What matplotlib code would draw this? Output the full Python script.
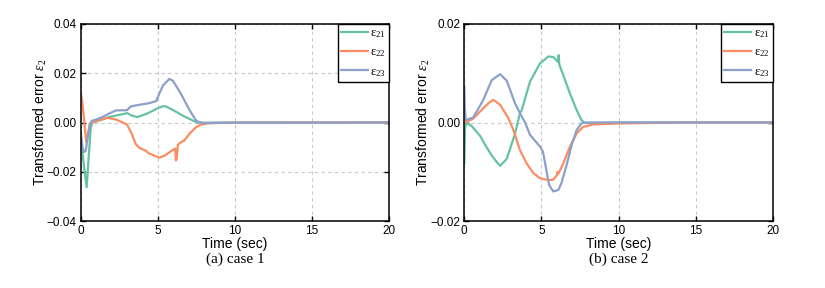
import matplotlib
matplotlib.use("Agg")
import matplotlib.pyplot as plt

plt.rcParams['font.family'] = ['Liberation Sans', 'DejaVu Sans']
plt.rcParams['mathtext.fontset'] = 'custom'
plt.rcParams['mathtext.rm'] = 'Liberation Serif'
plt.rcParams['mathtext.it'] = 'Liberation Serif:italic'

C_GREEN = '#66c2a5'
C_ORANGE = '#fc8d62'
C_BLUE = '#8da0cb'

# ---- case 1 data ----
t1_e21 = [0.0, 0.1, 0.25, 0.38, 0.5, 0.65, 0.75, 1.2, 1.83, 2.5, 3.02, 3.3, 3.67, 4.3, 4.9, 5.33, 5.5, 5.97, 6.62, 7.26, 7.58, 8.0, 10.0, 20.0]
v1_e21 = [-0.006, -0.012, -0.020, -0.0263, -0.015, -0.002, 0.0, 0.0008, 0.0022, 0.0031, 0.0038, 0.0028, 0.0022, 0.0036, 0.0055, 0.0066, 0.0066, 0.0051, 0.0028, 0.0008, 0.0, -0.0001, 0.0, 0.0]

t1_e22 = [0.0, 0.1, 0.22, 0.35, 0.48, 0.6, 0.75, 1.2, 1.73, 2.3, 3.0, 3.3, 3.56, 3.8, 4.2, 4.4, 5.1, 5.43, 6.08, 6.13, 6.17, 6.22, 6.3, 6.5, 6.7, 7.05, 7.48, 7.8, 8.35, 9.5, 12.0, 20.0]
v1_e22 = [0.012, 0.008, 0.001, -0.008, -0.004, -0.0005, 0.0, 0.001, 0.0019, 0.0012, -0.0008, -0.0045, -0.0087, -0.0103, -0.0114, -0.0125, -0.0143, -0.0135, -0.0107, -0.0106, -0.0154, -0.0150, -0.0090, -0.0080, -0.0074, -0.0046, -0.0019, -0.0008, -0.0003, -0.0001, 0.0, 0.0]

t1_e23 = [0.0, 0.1, 0.2, 0.32, 0.45, 0.6, 0.72, 1.0, 1.4, 1.9, 2.27, 3.0, 3.24, 3.8, 4.4, 4.9, 5.0, 5.33, 5.75, 5.97, 6.3, 6.5, 7.05, 7.48, 7.7, 8.0, 10.0, 20.0]
v1_e23 = [-0.004, -0.010, -0.012, -0.0115, -0.006, -0.0005, 0.0007, 0.0012, 0.0022, 0.0038, 0.0049, 0.005, 0.0065, 0.0072, 0.0078, 0.0087, 0.0103, 0.015, 0.0177, 0.017, 0.0137, 0.0116, 0.0051, 0.0008, 0.0, -0.0002, -0.0001, 0.0]

# ---- case 2 data ----
t2_e21 = [0.0, 0.05, 0.15, 0.5, 1.02, 1.4, 1.78, 2.05, 2.32, 2.75, 3.29, 3.61, 3.72, 4.26, 4.91, 5.45, 5.77, 6.08, 6.12, 6.16, 6.42, 6.85, 7.29, 7.6, 7.8, 8.5, 10.0, 20.0]
v2_e21 = [-0.0082, -0.001, 0.0, -0.0008, -0.0027, -0.0048, -0.0067, -0.0078, -0.0088, -0.0074, -0.0023, 0.0019, 0.0025, 0.0083, 0.012, 0.0134, 0.0133, 0.0123, 0.0137, 0.0118, 0.0096, 0.0059, 0.0025, 0.0005, -0.0001, -0.0001, 0.0, 0.0]

t2_e22 = [0.0, 0.2, 0.58, 1.23, 1.6, 1.88, 2.32, 2.86, 3.18, 3.61, 4.04, 4.48, 4.91, 5.45, 5.77, 6.0, 6.05, 6.1, 6.42, 6.85, 7.29, 7.7, 8.35, 10.0, 14.0, 20.0]
v2_e22 = [0.0, 0.0002, 0.0008, 0.0029, 0.0040, 0.0046, 0.0036, 0.0009, -0.0015, -0.0056, -0.0083, -0.0103, -0.0113, -0.0117, -0.0116, -0.0107, -0.0100, -0.0104, -0.0083, -0.0049, -0.0022, -0.0009, -0.0004, -0.0002, 0.0, 0.0]

t2_e23 = [0.0, 0.03, 0.1, 0.58, 1.23, 1.78, 2.32, 2.75, 3.29, 3.61, 3.94, 4.26, 4.91, 5.1, 5.3, 5.5, 5.77, 6.1, 6.3, 6.64, 6.96, 7.29, 7.6, 7.8, 10.0, 20.0]
v2_e23 = [0.0073, 0.003, 0.0005, 0.001, 0.0046, 0.0086, 0.0098, 0.0085, 0.0039, 0.0019, 0.0, -0.0025, -0.0049, -0.0059, -0.0093, -0.0127, -0.014, -0.0137, -0.0123, -0.0086, -0.0046, -0.0015, -0.0002, 0.0, 0.0, 0.0]

legend_labels = [r'$\mathrm{ε}_{21}$', r'$\mathrm{ε}_{22}$', r'$\mathrm{ε}_{23}$']

fig = plt.figure(figsize=(8.25, 2.88), dpi=100)
ax1 = fig.add_axes([80.8/825, 1 - 221/288, (389 - 80.8)/825, 197/288])
ax2 = fig.add_axes([464.3/825, 1 - 221/288, (772.7 - 464.3)/825, 197/288])

panels = [
    (ax1, [(t1_e21, v1_e21), (t1_e22, v1_e22), (t1_e23, v1_e23)], (-0.04, 0.04), [-0.04, -0.02, 0.0, 0.02, 0.04], '(a) case 1'),
    (ax2, [(t2_e21, v2_e21), (t2_e22, v2_e22), (t2_e23, v2_e23)], (-0.02, 0.02), [-0.02, 0.0, 0.02], '(b) case 2'),
]

for ax, series, ylim, yticks, caption in panels:
    for (tt, vv), col, lab in zip(series, [C_GREEN, C_ORANGE, C_BLUE], legend_labels):
        ax.plot(tt, vv, color=col, lw=1.6, label=lab)
    ax.set_xlim(0, 20)
    ax.set_ylim(*ylim)
    ax.set_xticks([0, 5, 10, 15, 20])
    ax.set_yticks(yticks)
    ax.yaxis.set_major_formatter(matplotlib.ticker.FuncFormatter(lambda v, p: ('%.2f' % v).replace('-', '\u2212')))
    ax.grid(True, color='#c8c8c8', ls=(0, (3, 3)), lw=0.8)
    ax.tick_params(direction='in', top=True, right=True, length=3.5, width=1.0, labelsize=8.5, pad=3)
    for sp in ax.spines.values():
        sp.set_linewidth(1.1)
    ax.set_xlabel('Time (sec)', fontsize=10, labelpad=0)
    ax.set_ylabel(r'Transformed error $\varepsilon_2$', fontsize=10, labelpad=-1.5)
    ax.text(0.5, -0.158, caption, transform=ax.transAxes, ha='center', va='top',
            fontsize=11, family='Liberation Serif')
    leg = ax.legend(loc='upper right', borderaxespad=0, fancybox=False, framealpha=1,
                    edgecolor='black', prop={'family': 'Liberation Serif', 'size': 9},
                    handlelength=2.15, handletextpad=0.2, labelspacing=0.52, borderpad=0.25)
    leg.get_frame().set_linewidth(1.0)

fig.savefig('out.png', dpi=100)
